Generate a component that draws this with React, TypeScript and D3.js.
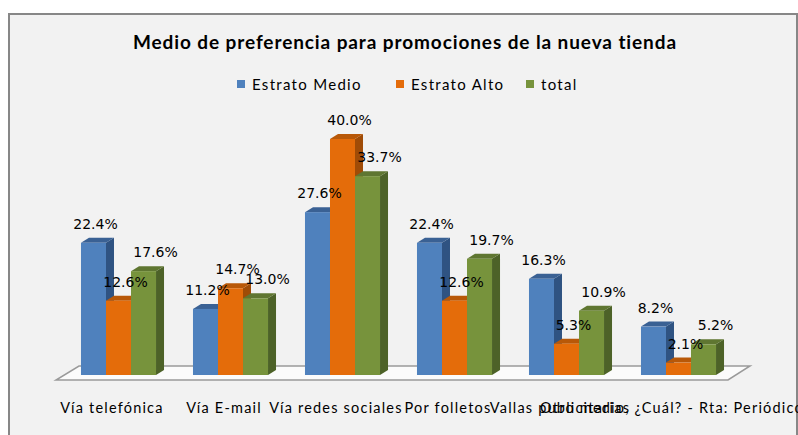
import * as d3 from "d3";

const categories = [
  "Vía telefónica",
  "Vía E-mail",
  "Vía redes sociales",
  "Por folletos",
  "Vallas publicitarias",
  "Otro medio, ¿Cuál? - Rta: Periódico",
];
const seriesNames = ["Estrato Medio", "Estrato Alto", "total"];
const estratoMedio = [22.4, 11.2, 27.6, 22.4, 16.3, 8.2];
const estratoAlto = [12.6, 14.7, 40.0, 12.6, 5.3, 2.1];
const total = [17.6, 13.0, 33.7, 19.7, 10.9, 5.2];

const title = "Medio de preferencia para promociones de la nueva tienda";

// front / top / side shades per series
const colors = [
  { front: "#4f81bd", top: "#3a6194", side: "#2f5382" },
  { front: "#e46c0a", top: "#b85808", side: "#a04c07" },
  { front: "#77933c", top: "#5f7631", side: "#4d6228" },
];

function App() {
  const width = 798;
  const height = 435;
  const series = [estratoMedio, estratoAlto, total];

  const x = d3
    .scaleBand<string>()
    .domain(categories)
    .range([56, 728])
    .paddingInner(0.33)
    .paddingOuter(0.165);
  const y = d3.scaleLinear().domain([0, 40]).range([375, 139]);

  const bw = x.bandwidth() / 3;
  const shift = 6.5; // bars sit a bit to the right of the floor's front edge
  const dx = 8;
  const dy = 5;
  const labelDx = [2, 7, 12];

  const y0 = y(0);
  const floor = [
    [x.range()[0], y0 + 5],
    [x.range()[1], y0 + 5],
    [x.range()[1] + 22, y0 - 9],
    [x.range()[0] + 23, y0 - 9],
  ];

  const legendX = [237, 396, 526];

  return (
    <svg
      width={width}
      height={height}
      style={{ position: "absolute", left: 0, top: 0, display: "block" }}
    >
      <rect x={0} y={0} width={width} height={height} fill="#ffffff" />
      <rect
        x={9}
        y={14}
        width={788}
        height={440}
        fill="#f2f2f2"
        stroke="#878787"
        strokeWidth={2}
      />
      <text
        x={405}
        y={49}
        textAnchor="middle"
        fontFamily="Lato"
        fontWeight="bold"
        fontSize={19}
        letterSpacing={0.9}
        fill="#000"
      >
        {title}
      </text>

      <g fontFamily="Lato" fontSize={15} letterSpacing={1.3} fill="#000">
        {seriesNames.map((name, i) => (
          <g key={name}>
            <rect
              x={legendX[i]}
              y={80}
              width={8}
              height={8}
              fill={colors[i].front}
            />
            <text x={legendX[i] + 15} y={89.5}>
              {name}
            </text>
          </g>
        ))}
      </g>

      <polygon
        points={floor.map((p) => p.join(",")).join(" ")}
        fill="#fbfbfb"
        stroke="#9a9a9a"
        strokeWidth={1.5}
      />

      {categories.map((cat, ci) => (
        <g key={cat}>
          {series.map((vals, si) => {
            const x0 = (x(cat) ?? 0) + shift + si * bw;
            const x1 = x0 + bw;
            const top = y(vals[ci]);
            const c = colors[si];
            return (
              <g key={si}>
                <polygon
                  points={`${x1},${top} ${x1 + dx},${top - dy} ${x1 + dx},${y0 - dy} ${x1},${y0}`}
                  fill={c.side}
                />
                <polygon
                  points={`${x0},${top} ${x0 + dx},${top - dy} ${x1 + dx},${top - dy} ${x1},${top}`}
                  fill={c.top}
                />
                <rect x={x0} y={top} width={bw} height={y0 - top} fill={c.front} />
              </g>
            );
          })}
        </g>
      ))}

      <g fontFamily="DejaVu Sans" fontSize={14} fill="#000" textAnchor="middle">
        {categories.map((cat, ci) =>
          series.map((vals, si) => {
            const cx = (x(cat) ?? 0) + shift + si * bw + bw / 2 + labelDx[si];
            return (
              <text key={cat + si} x={cx} y={y(vals[ci]) - 14}>
                {d3.format(".1f")(vals[ci]) + "%"}
              </text>
            );
          })
        )}
      </g>

      <g fontFamily="Lato" fontSize={14.5} letterSpacing={1.2} fill="#000" textAnchor="middle">
        {categories.map((cat) => (
          <text key={cat} x={(x(cat) ?? 0) + x.bandwidth() / 2} y={413}>
            {cat}
          </text>
        ))}
      </g>
    </svg>
  );
}

export default App;
